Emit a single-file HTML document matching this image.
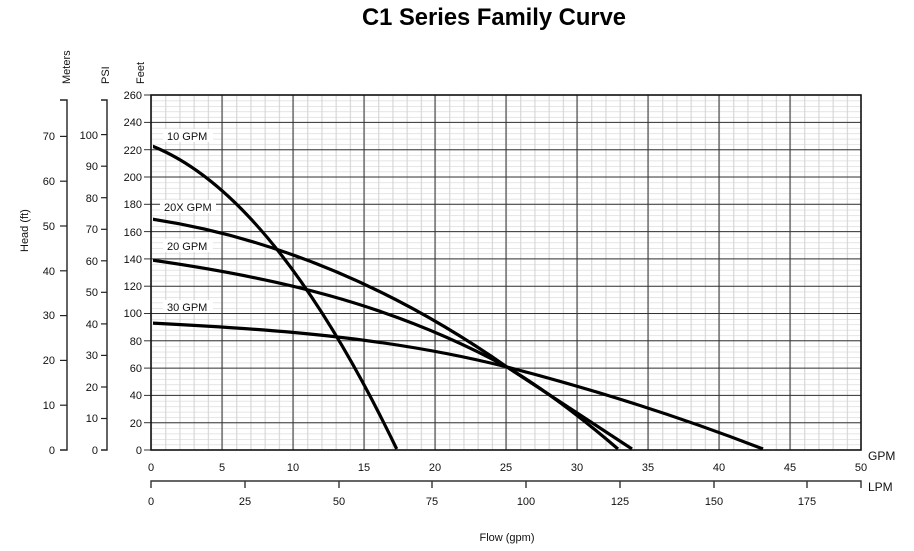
<!DOCTYPE html>
<html><head><meta charset="utf-8"><style>
html,body{margin:0;padding:0;background:#fff;}
svg{display:block;font-family:"Liberation Sans",Arial,sans-serif;}
</style></head><body>
<svg width="914" height="551" viewBox="0 0 914 551" xmlns="http://www.w3.org/2000/svg">
<defs>
<pattern id="mv" patternUnits="userSpaceOnUse" x="151" y="0" width="14.2" height="10">
<line x1="0.5" y1="0" x2="0.5" y2="10" stroke="#d4d4d4" stroke-width="1.2"/></pattern>
<pattern id="mh" patternUnits="userSpaceOnUse" x="0" y="450" width="10" height="5.46">
<line x1="0" y1="0" x2="10" y2="0" stroke="#d4d4d4" stroke-width="1.2"/></pattern>
<clipPath id="cp"><rect x="153" y="95" width="708" height="355"/></clipPath>
</defs>
<text x="494" y="25" text-anchor="middle" font-size="24" font-weight="bold" textLength="264" lengthAdjust="spacingAndGlyphs">C1 Series Family Curve</text>
<rect x="151" y="95" width="710" height="355" fill="url(#mv)"/>
<rect x="151" y="95" width="710" height="355" fill="url(#mh)"/>
<g stroke="#333" stroke-width="1">
<line x1="222" y1="95" x2="222" y2="450"/><line x1="293" y1="95" x2="293" y2="450"/><line x1="364" y1="95" x2="364" y2="450"/><line x1="435" y1="95" x2="435" y2="450"/><line x1="506" y1="95" x2="506" y2="450"/><line x1="577" y1="95" x2="577" y2="450"/><line x1="648" y1="95" x2="648" y2="450"/><line x1="719" y1="95" x2="719" y2="450"/><line x1="790" y1="95" x2="790" y2="450"/>
<line x1="151" y1="422.7" x2="861" y2="422.7"/><line x1="151" y1="395.4" x2="861" y2="395.4"/><line x1="151" y1="368.1" x2="861" y2="368.1"/><line x1="151" y1="340.8" x2="861" y2="340.8"/><line x1="151" y1="313.5" x2="861" y2="313.5"/><line x1="151" y1="286.2" x2="861" y2="286.2"/><line x1="151" y1="258.9" x2="861" y2="258.9"/><line x1="151" y1="231.6" x2="861" y2="231.6"/><line x1="151" y1="204.3" x2="861" y2="204.3"/><line x1="151" y1="177" x2="861" y2="177"/><line x1="151" y1="149.7" x2="861" y2="149.7"/><line x1="151" y1="122.4" x2="861" y2="122.4"/>
<line x1="144" y1="422.7" x2="151" y2="422.7"/><line x1="144" y1="395.4" x2="151" y2="395.4"/><line x1="144" y1="368.1" x2="151" y2="368.1"/><line x1="144" y1="340.8" x2="151" y2="340.8"/><line x1="144" y1="313.5" x2="151" y2="313.5"/><line x1="144" y1="286.2" x2="151" y2="286.2"/><line x1="144" y1="258.9" x2="151" y2="258.9"/><line x1="144" y1="231.6" x2="151" y2="231.6"/><line x1="144" y1="204.3" x2="151" y2="204.3"/><line x1="144" y1="177" x2="151" y2="177"/><line x1="144" y1="149.7" x2="151" y2="149.7"/><line x1="144" y1="122.4" x2="151" y2="122.4"/><line x1="144" y1="95" x2="151" y2="95"/><line x1="144" y1="450" x2="151" y2="450"/>
</g>
<rect x="151" y="95" width="710" height="355" fill="none" stroke="#111" stroke-width="1.6"/>
<g stroke="#222" stroke-width="1.4" fill="none">
<path d="M60 100 H67 V450 H60"/>
<path d="M101 100 H107 V450 H101"/>
</g>
<g stroke="#222" stroke-width="1.2">
<line x1="60" y1="405.2" x2="67" y2="405.2"/><line x1="60" y1="360.4" x2="67" y2="360.4"/><line x1="60" y1="315.6" x2="67" y2="315.6"/><line x1="60" y1="270.8" x2="67" y2="270.8"/><line x1="60" y1="226" x2="67" y2="226"/><line x1="60" y1="181.2" x2="67" y2="181.2"/><line x1="60" y1="136.4" x2="67" y2="136.4"/>
<line x1="101" y1="418.5" x2="107" y2="418.5"/><line x1="101" y1="387" x2="107" y2="387"/><line x1="101" y1="355.4" x2="107" y2="355.4"/><line x1="101" y1="323.9" x2="107" y2="323.9"/><line x1="101" y1="292.3" x2="107" y2="292.3"/><line x1="101" y1="260.8" x2="107" y2="260.8"/><line x1="101" y1="229.3" x2="107" y2="229.3"/><line x1="101" y1="197.7" x2="107" y2="197.7"/><line x1="101" y1="166.2" x2="107" y2="166.2"/><line x1="101" y1="134.6" x2="107" y2="134.6"/>
</g>
<g font-size="11" fill="#111" text-anchor="end">
<text x="55" y="454">0</text><text x="55" y="409">10</text><text x="55" y="364">20</text><text x="55" y="319">30</text><text x="55" y="275">40</text><text x="55" y="230">50</text><text x="55" y="185">60</text><text x="55" y="140">70</text>
<text x="98" y="454">0</text><text x="98" y="422">10</text><text x="98" y="391">20</text><text x="98" y="359">30</text><text x="98" y="328">40</text><text x="98" y="296">50</text><text x="98" y="265">60</text><text x="98" y="233">70</text><text x="98" y="202">80</text><text x="98" y="170">90</text><text x="98" y="139">100</text>
<text x="142" y="454">0</text><text x="142" y="427">20</text><text x="142" y="399">40</text><text x="142" y="372">60</text><text x="142" y="345">80</text><text x="142" y="317">100</text><text x="142" y="290">120</text><text x="142" y="263">140</text><text x="142" y="236">160</text><text x="142" y="208">180</text><text x="142" y="181">200</text><text x="142" y="154">220</text><text x="142" y="126">240</text><text x="142" y="99">260</text>
</g>
<g font-size="11" fill="#111">
<text transform="translate(70,84) rotate(-90)">Meters</text>
<text transform="translate(109,84) rotate(-90)">PSI</text>
<text transform="translate(144,84) rotate(-90)">Feet</text>
<text transform="translate(28,252) rotate(-90)">Head (ft)</text>
<text x="507" y="541" text-anchor="middle">Flow (gpm)</text>
<text x="868" y="460" font-size="12">GPM</text>
<text x="868" y="491" font-size="12">LPM</text>
</g>
<g font-size="11" fill="#111" text-anchor="middle">
<text x="151" y="471">0</text><text x="222" y="471">5</text><text x="293" y="471">10</text><text x="364" y="471">15</text><text x="435" y="471">20</text><text x="506" y="471">25</text><text x="577" y="471">30</text><text x="648" y="471">35</text><text x="719" y="471">40</text><text x="790" y="471">45</text><text x="861" y="471">50</text>
<text x="151" y="505">0</text><text x="245" y="505">25</text><text x="339" y="505">50</text><text x="432" y="505">75</text><text x="526" y="505">100</text><text x="620" y="505">125</text><text x="714" y="505">150</text><text x="807" y="505">175</text>
</g>
<g stroke="#333" stroke-width="1.4" fill="none">
<path d="M151 488 V481 H861 V488"/>
<line x1="245" y1="481" x2="245" y2="488"/><line x1="339" y1="481" x2="339" y2="488"/><line x1="432" y1="481" x2="432" y2="488"/><line x1="526" y1="481" x2="526" y2="488"/><line x1="620" y1="481" x2="620" y2="488"/><line x1="714" y1="481" x2="714" y2="488"/><line x1="807" y1="481" x2="807" y2="488"/>
</g>
<g stroke="#000" stroke-width="3.2" fill="none" clip-path="url(#cp)" stroke-linejoin="round">
<path d="M151 145.6 Q273.8 193.6 396.7 449"/>
<path d="M151 219 C270 237 388 284 507 367 L632 449"/>
<path d="M151 260 C270 277 388 302 507 367 Q560 399 618 449"/>
<path d="M151 323 C270 329 388 337 507 367 C592 389 678 416 763 449"/>
</g>
<g font-size="11" fill="#111">
<rect x="163" y="129" width="50" height="13" fill="#fff"/><text x="167" y="140">10 GPM</text>
<rect x="160" y="200" width="56" height="13" fill="#fff"/><text x="164" y="211">20X GPM</text>
<rect x="163" y="239" width="50" height="13" fill="#fff"/><text x="167" y="250">20 GPM</text>
<rect x="163" y="300" width="50" height="13" fill="#fff"/><text x="167" y="311">30 GPM</text>
</g>
</svg>
</body></html>
